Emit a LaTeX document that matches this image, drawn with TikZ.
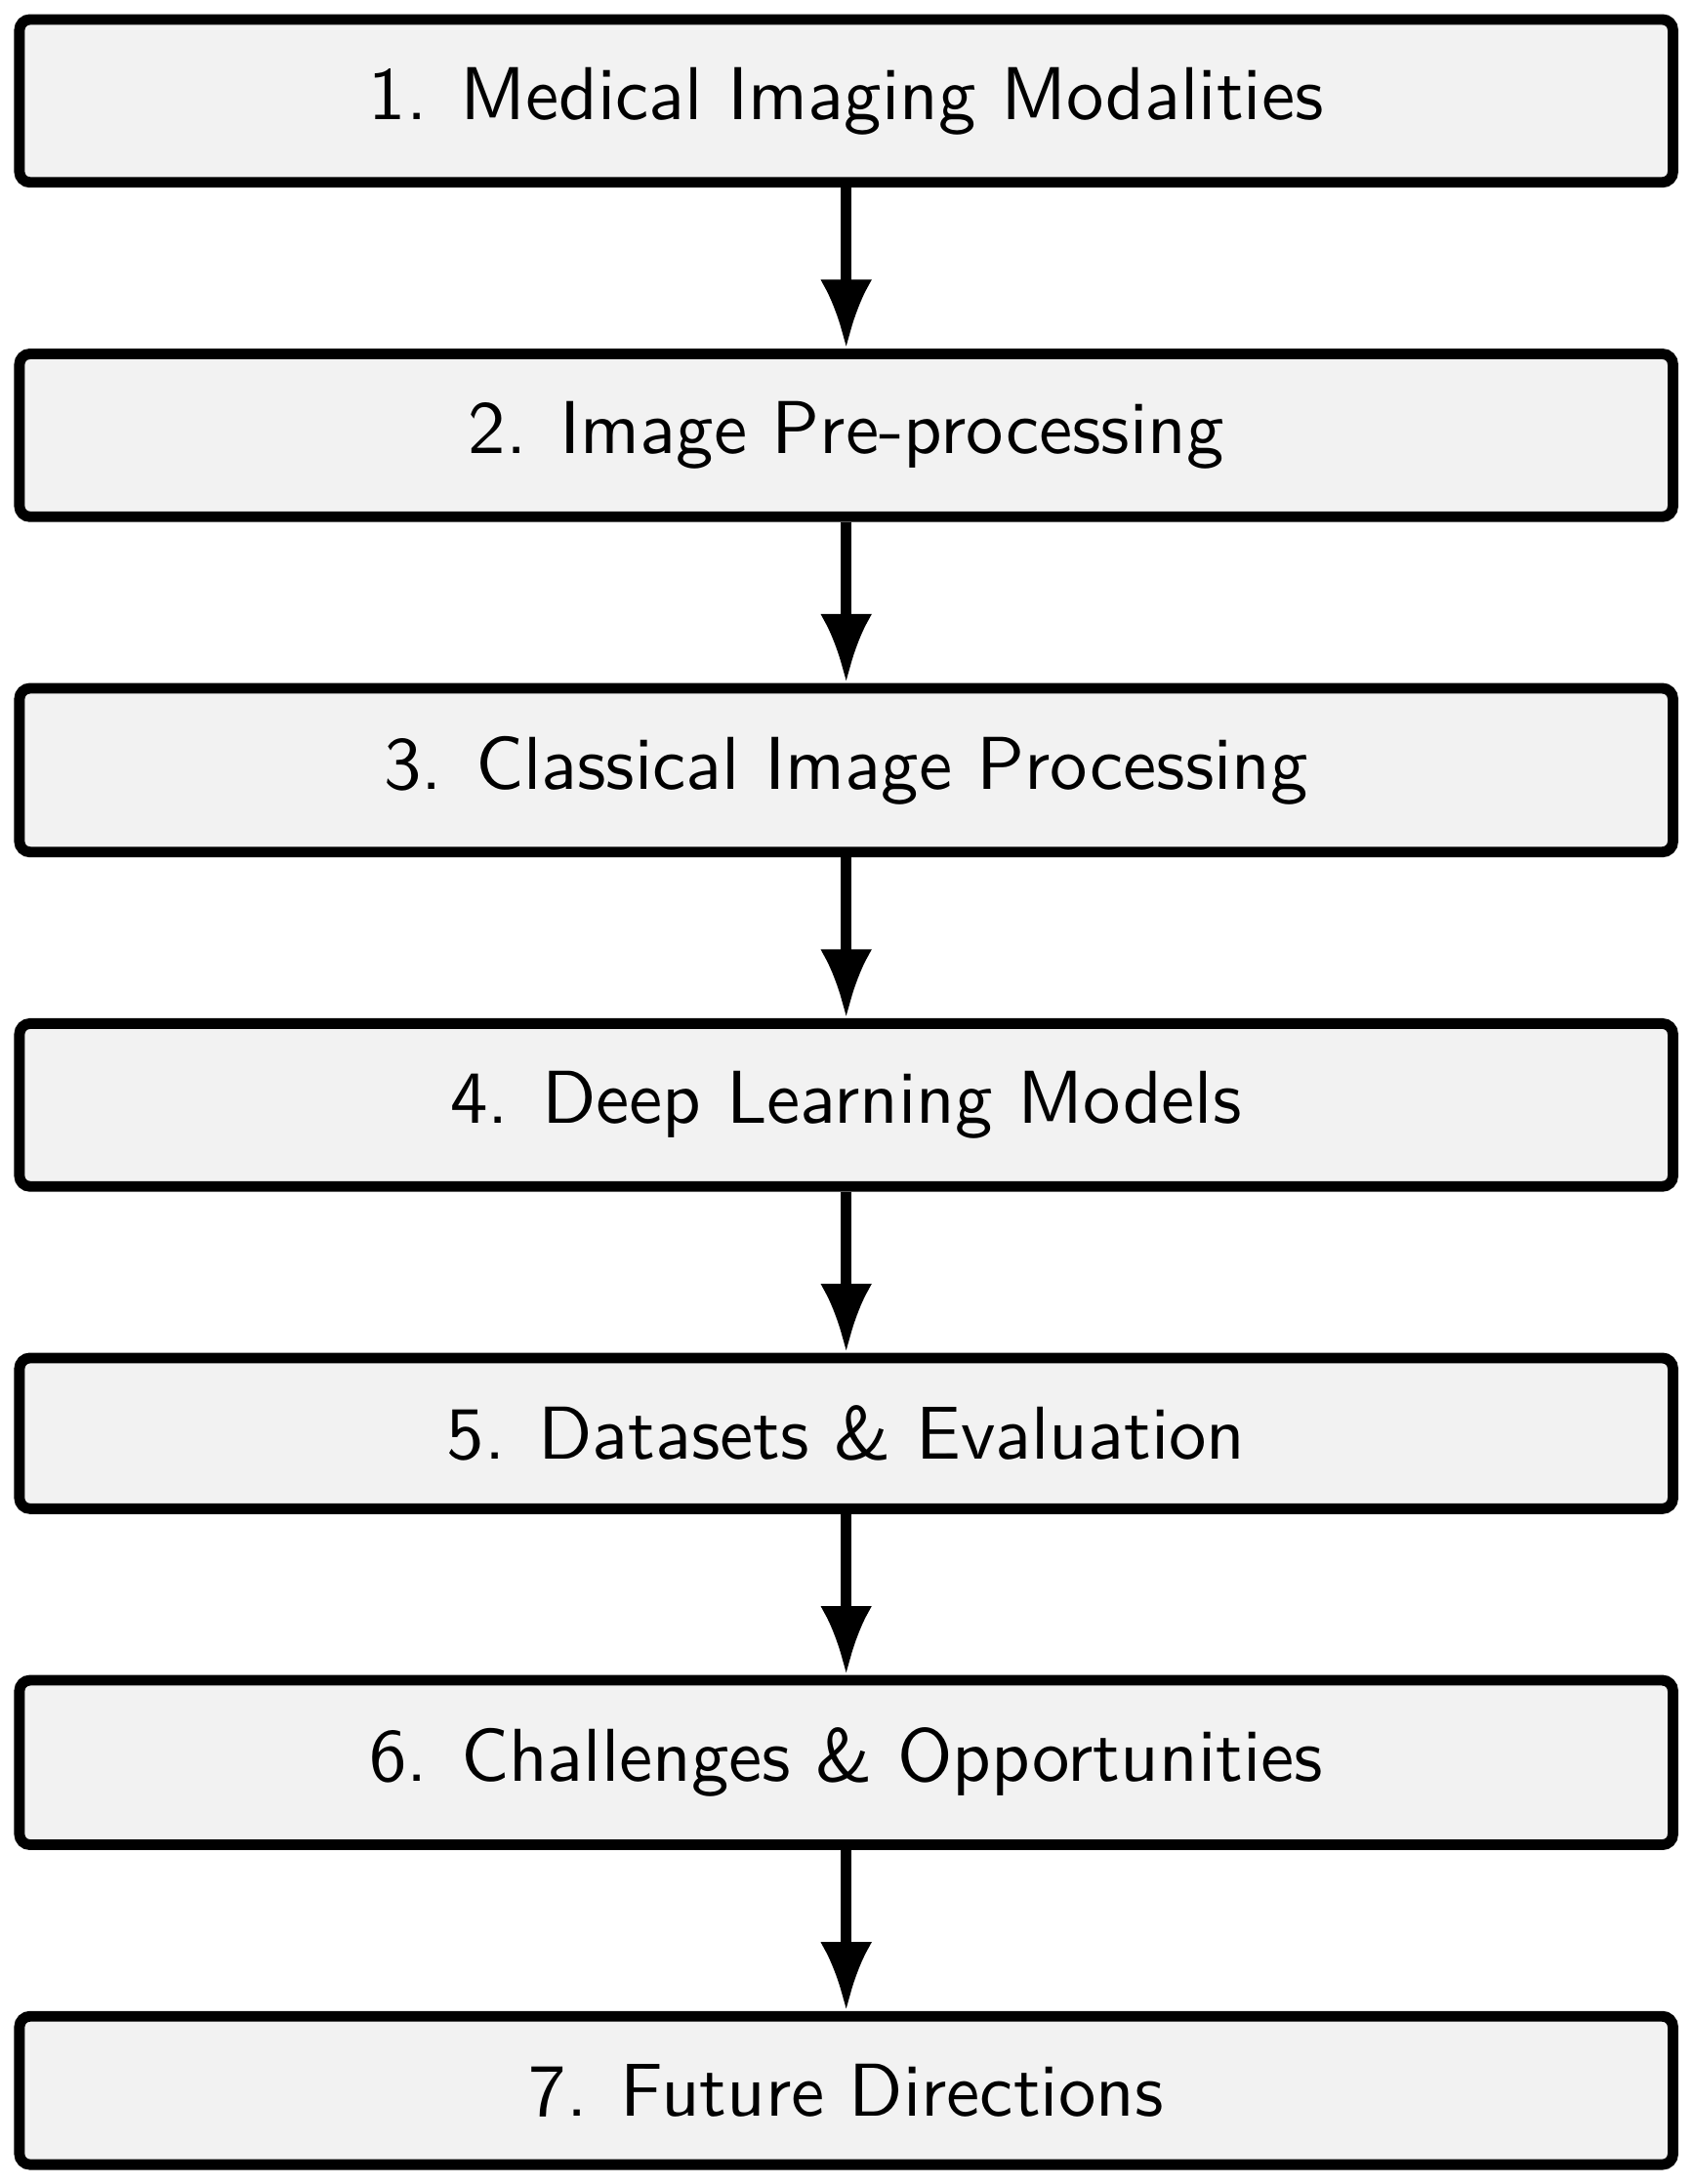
\documentclass[tikz,border=0pt]{standalone}
\usetikzlibrary{positioning,arrows.meta}

\begin{document}
\begin{tikzpicture}[node distance=0.8cm,
  stage/.style={draw, line width=1.5pt, rounded corners=1.5pt, fill=gray!10, minimum width=8.22cm, inner xsep=0pt, inner ysep=6.75pt, font=\fontsize{10.6pt}{12pt}\sffamily},
  link/.style={-{Latex}, line width=1.5pt}]
\node[stage] (1) {1. Medical Imaging Modalities};
\node[stage, below=of 1] (2) {2. Image Pre-processing};
\node[stage, below=of 2] (3) {3. Classical Image Processing};
\node[stage, below=of 3] (4) {4. Deep Learning Models};
\node[stage, below=of 4] (5) {5. Datasets \& Evaluation};
\node[stage, below=of 5] (6) {6. Challenges \& Opportunities};
\node[stage, below=of 6] (7) {7. Future Directions};
\foreach \a/\b in {1/2,2/3,3/4,4/5,5/6,6/7}
  \draw[link] (\a) -- (\b);
\path ([shift={(-2pt,2pt)}]1.north west) rectangle ([shift={(2pt,-2pt)}]7.south east);
\end{tikzpicture}
\end{document}
